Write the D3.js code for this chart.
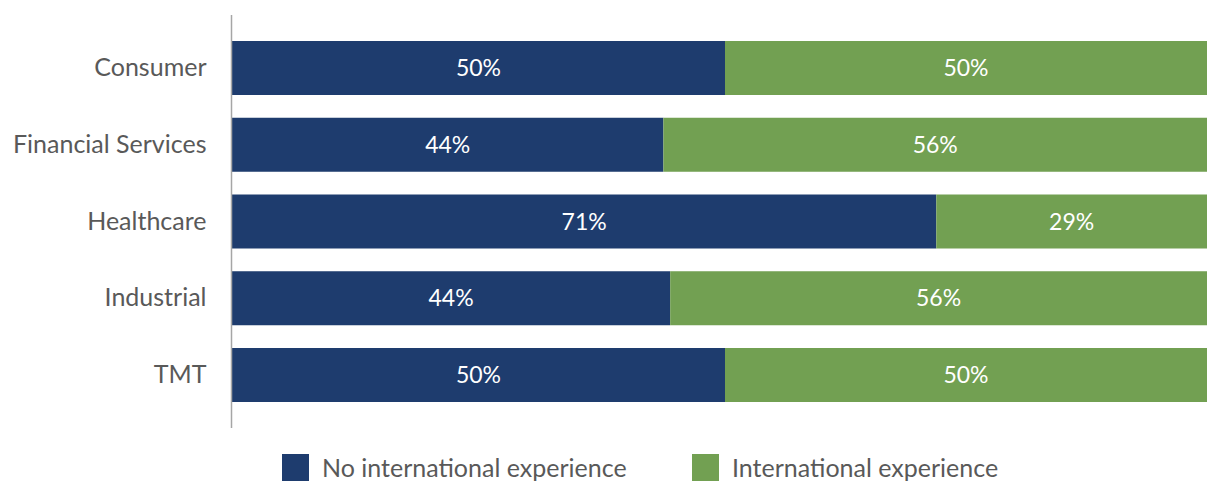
<!DOCTYPE html>
<html>
<head>
<meta charset="utf-8">
<script src="https://cdn.jsdelivr.net/npm/d3@7"></script>
<style>
  html, body { margin: 0; padding: 0; background: #fff; }
  svg text { font-family: Lato, "Open Sans", sans-serif; }
</style>
</head>
<body>
<svg id="chart" width="1207" height="482"></svg>
<script>
// Sector breakdown: share of leaders with / without international experience
const categories = ["Consumer", "Financial Services", "Healthcare", "Industrial", "TMT"];
const noIntl = [50, 43.75, 71.43, 44.44, 50];
const intl   = [50, 56.25, 28.57, 55.56, 50];
const seriesNames = ["No international experience", "International experience"];
const seriesColors = ["#1e3c6e", "#72a052"];

const svg = d3.select("#chart");

const x = d3.scaleLinear().domain([0, 100]).range([232, 1218]);
const y = d3.scaleBand().domain(categories).range([41, 402]).paddingInner(0.2964).paddingOuter(0);

const rows = categories.map((c, i) => ({ cat: c, vals: [noIntl[i], intl[i]] }));
const stack = d3.stack().keys([0, 1]).value((d, k) => d.vals[k]);
const layers = stack(rows);

const g = svg.append("g");
layers.forEach((layer, k) => {
  const lg = g.append("g");
  lg.selectAll("rect").data(layer).join("rect")
    .attr("x", d => x(d[0]))
    .attr("y", d => y(d.data.cat))
    .attr("width", d => x(d[1]) - x(d[0]))
    .attr("height", y.bandwidth())
    .attr("fill", seriesColors[k]);
  lg.selectAll("text").data(layer).join("text")
    .attr("x", d => (x(d[0]) + Math.min(x(d[1]), 1207)) / 2)
    .attr("y", d => y(d.data.cat) + y.bandwidth() / 2)
    .attr("dy", "0.35em")
    .attr("text-anchor", "middle")
    .attr("fill", "#ffffff")
    .attr("font-size", 23)
    .text(d => Math.round(d[1] - d[0]) + "%");
});

// Category axis
const axis = svg.append("g").attr("transform", "translate(231.5,0)")
  .call(d3.axisLeft(y).tickSize(0).tickPadding(25));
axis.select(".domain").attr("d", "M0,15V428").attr("stroke", "#a6a6a6").attr("stroke-width", 1.5);
axis.selectAll(".tick text")
  .attr("font-size", 25)
  .attr("fill", "#595959")
  .attr("font-family", "Lato, 'Open Sans', sans-serif");

// Legend
const legendX = [282, 692];
const legend = svg.append("g");
seriesNames.forEach((name, k) => {
  legend.append("rect")
    .attr("x", legendX[k]).attr("y", 454)
    .attr("width", 27).attr("height", 27)
    .attr("fill", seriesColors[k]);
  legend.append("text")
    .attr("x", legendX[k] + 40).attr("y", 468)
    .attr("dy", "0.35em")
    .attr("font-size", 25)
    .attr("fill", "#595959")
    .text(name);
});
</script>
</body>
</html>
